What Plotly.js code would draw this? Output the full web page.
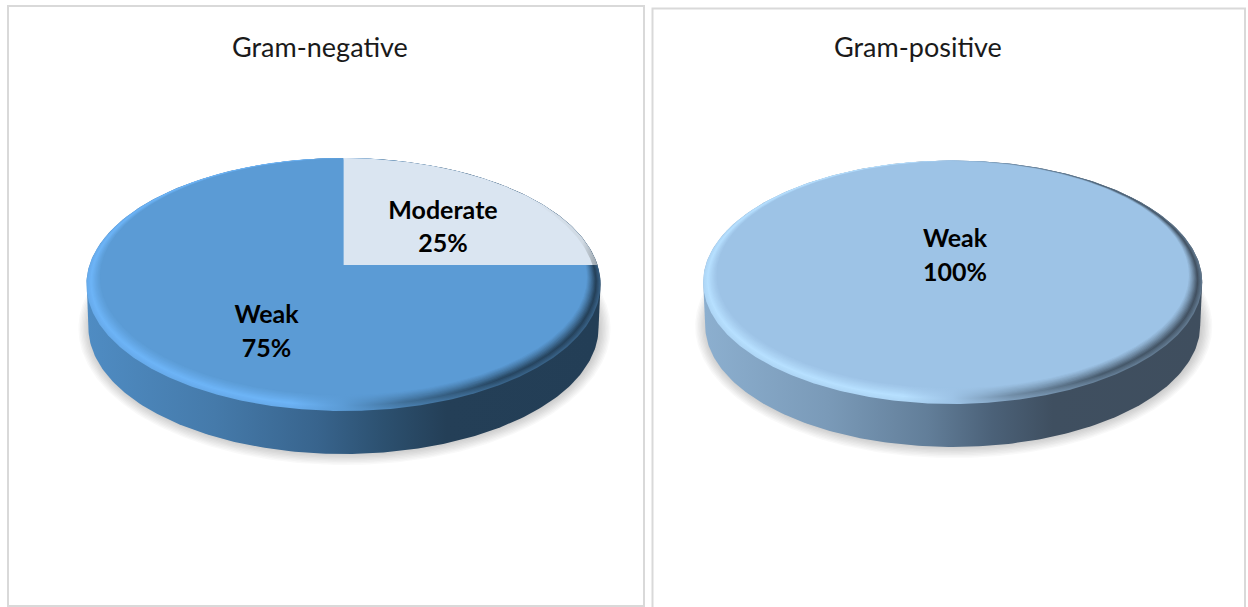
<!DOCTYPE html>
<html>
<head>
<meta charset="utf-8">
<script src="https://cdn.plot.ly/plotly-3.0.1.min.js"></script>
<style>html,body{margin:0;padding:0;background:#fff}#chart{width:1248px;height:607px}#chart text{font-variant-ligatures:none}</style>
</head>
<body>
<div id="chart"></div>
<script>
// Activity categories and their shares for each bacterial group
const negCategories = ['Moderate', 'Weak'];
const negValues = [25, 75];
const posCategories = ['Weak'];
const posValues = [100];
const panelTitles = ['Gram-negative', 'Gram-positive'];

const labelFont = 'Lato, Carlito, Calibri, sans-serif';
const BORDER = '#d9d9d9';

// Disc geometry of each tilted pie, in plot units
const negDisc = {cx: 343.5, cy: 265, R: 254, back: 107, front: 146, wall: 43, inset: 12, bevel: 16, backInset: 1.2};
const posDisc = {cx: 952.7, cy: 265, R: 247, back: 104.5, front: 139, wall: 43, inset: 12, bevel: 16, backInset: 1.2};

// Perspective projection of a point on the disc: angle runs clockwise from 12 o'clock
function project(d, deg) {
  const a = deg * Math.PI / 180;
  const p = (d.front - d.back) / (d.front + d.back);
  const S = d.back * (1 + p);
  const w = 1 + p * Math.cos(a);
  return [d.cx + d.R * Math.sin(a) / w, d.cy - S * Math.cos(a) / w];
}

// The projected circle is an ellipse; these are its centre and radii
function ellipseOf(d) {
  const p = (d.front - d.back) / (d.front + d.back);
  return {x: d.cx, y: d.cy + (d.front - d.back) / 2, rx: d.R / Math.sqrt(1 - p * p), ry: (d.front + d.back) / 2};
}

function sliceXY(d, startDeg, endDeg, full) {
  const xs = [], ys = [];
  if (!full) { xs.push(d.cx); ys.push(d.cy); }
  const n = Math.max(8, Math.round((endDeg - startDeg) * 2));
  for (let i = 0; i <= n; i++) {
    const q = project(d, startDeg + (endDeg - startDeg) * i / n);
    xs.push(q[0]); ys.push(q[1]);
  }
  if (!full) { xs.push(d.cx); ys.push(d.cy); }
  return {x: xs, y: ys};
}

function ellipseXY(e) {
  const xs = [], ys = [];
  for (let i = 0; i <= 360; i += 1) {
    const a = i * Math.PI / 180;
    xs.push(e.x + e.rx * Math.cos(a));
    ys.push(e.y + e.ry * Math.sin(a));
  }
  return {x: xs, y: ys};
}

function wallXY(e, drop, narrow) {
  const xs = [], ys = [];
  for (let i = 0; i <= 180; i++) {
    const a = i * Math.PI / 180;
    xs.push(e.x + (e.rx - narrow) * Math.cos(a));
    ys.push(e.y + drop + e.ry * Math.sin(a));
  }
  for (let i = 180; i <= 360; i++) {
    const a = i * Math.PI / 180;
    xs.push(e.x + e.rx * Math.cos(a));
    ys.push(e.y + e.ry * Math.sin(a));
  }
  return {x: xs, y: ys};
}

function hex(c) { return [1, 3, 5].map(i => parseInt(c.substr(i, 2), 16)); }
function mix(a, b, t) {
  const A = hex(a), B = hex(b);
  return 'rgb(' + A.map((v, i) => Math.round(v + (B[i] - v) * t)).join(',') + ')';
}

function poly(xy, fill) {
  return Object.assign({type: 'scatter', mode: 'lines', x: xy.x, y: xy.y, fill: 'toself',
    line: {width: 0}, hoverinfo: 'skip', showlegend: false}, fill);
}
function solid(c) { return {fillcolor: c}; }
function grad(stops, startX, stopX) {
  return {fillgradient: {type: 'horizontal', start: startX, stop: stopX, colorscale: stops}};
}

// One complete pie: shadow, shaded wall, bevelled rim, then the slices
function drawPie(d, categories, values, pal) {
  const out = [];
  const e = ellipseOf(d);
  const left = e.x - e.rx, right = e.x + e.rx;

  // soft ground shadow
  const steps = 9;
  for (let i = 0; i < steps; i++) {
    const grow = 10 - i * 1.4;
    out.push(poly(ellipseXY({x: e.x + 1, y: e.y + d.wall + 1, rx: e.rx + grow - 1, ry: e.ry + grow}),
      solid('rgba(60,60,60,0.032)')));
  }

  // side wall
  out.push(poly(wallXY(e, d.wall, 2), grad(pal.wall, left, right)));

  // rim bevel: stacked discs blending from the edge tone into the face colour
  const layers = 14;
  for (let i = 0; i <= layers; i++) {
    const t = i / layers;
    const r = {cx: d.cx, cy: d.cy, R: d.R - d.inset * t, back: d.back - d.backInset * t, front: d.front - d.bevel * t};
    const k = (t < 0.3) ? 0.7 + 0.3 * t / 0.3 : 1 - (t - 0.3) / 0.7;
    const stops = pal.rim.map(s => [s[0], mix(pal.face, s[1], Math.pow(k, 1.2))]);
    out.push(poly(sliceXY(r, 0, 360, true), grad(stops, left, right)));
  }

  // slices, clockwise from 12 o'clock, each spanning its share of the total
  const total = values.reduce((a, b) => a + b, 0);
  let start = 0;
  values.forEach((v, i) => {
    const span = 360 * v / total;
    const tone = pal.slices[categories[i]];
    const flat = {cx: d.cx, cy: d.cy, R: d.R - d.inset, back: d.back - d.backInset, front: d.front - d.bevel};
    const full = span >= 360;
    if (tone.edge) {
      // the lighter slice reaches the rim and greys towards the far right edge
      const outer = {cx: d.cx, cy: d.cy, R: d.R, back: d.back, front: d.front};
      out.push(poly(sliceXY(outer, start, start + span, full),
        grad([[0, tone.face], [0.72, tone.face], [0.93, tone.edge], [1, '#8f989f']], d.cx, right)));
      const mid = {cx: d.cx, cy: d.cy, R: d.R - 5, back: d.back - 0.6, front: d.front};
      out.push(poly(sliceXY(mid, start, start + span, full), solid(tone.face)));
    } else {
      out.push(poly(sliceXY(flat, start, start + span, full), solid(tone.face)));
    }
    start += span;
  });
  return out;
}

const negPalette = {
  face: '#5b9bd5',
  wall: [[0, '#4f8cc3'], [0.25, '#457aaa'], [0.45, '#38648d'], [0.58, '#2c506f'], [0.7, '#243f57'], [1, '#233e56']],
  rim: [[0, '#6db4f7'], [0.4, '#6db4f7'], [0.5, '#5b9bd5'], [0.62, '#3f6e97'], [0.8, '#264560'], [1, '#233e56']],
  slices: {Moderate: {face: '#dae5f1', edge: '#cfd9e3'}, Weak: {face: '#5b9bd5'}}
};
const posPalette = {
  face: '#9dc3e6',
  wall: [[0, '#8cafcf'], [0.25, '#7a9ab8'], [0.45, '#627e99'], [0.58, '#4b6178'], [0.7, '#3f4f60'], [1, '#3f4e5e']],
  rim: [[0, '#b7e0ff'], [0.4, '#b7e0ff'], [0.5, '#9dc3e6'], [0.62, '#6f8ba5'], [0.8, '#46596b'], [1, '#3f4e5e']],
  slices: {Weak: {face: '#9dc3e6'}}
};

// Data labels: category name above its percentage
function labelTrace(categories, values, names, pcts) {
  const total = values.reduce((a, b) => a + b, 0);
  const texts = [], xs = [], ys = [];
  categories.forEach((c, i) => {
    texts.push(c, Math.round(100 * values[i] / total) + '%');
    xs.push(names[i][0], pcts[i][0]);
    ys.push(names[i][1], pcts[i][1]);
  });
  return {type: 'scatter', mode: 'text', x: xs, y: ys, text: texts, textposition: 'middle center',
    textfont: {family: labelFont, size: 25, color: '#000000', weight: 700},
    hoverinfo: 'skip', showlegend: false};
}

const traces = [
  ...drawPie(negDisc, negCategories, negValues, negPalette),
  labelTrace(negCategories, negValues, [[443, 213], [266.5, 317]], [[443, 245.5], [266.5, 350.5]]),
  ...drawPie(posDisc, posCategories, posValues, posPalette),
  labelTrace(posCategories, posValues, [[955, 241]], [[955, 274.5]])
];

const noAxis = {visible: false, fixedrange: true, showgrid: false, zeroline: false};
const panelBox = (x0, y0, x1, y1) => ({type: 'rect', xref: 'x', yref: 'y', x0, y0, x1, y1,
  line: {color: BORDER, width: 2}, fillcolor: 'rgba(0,0,0,0)', layer: 'below'});
const panelTitle = (text, x) => ({text, xref: 'x', yref: 'y', x, y: 46.5, showarrow: false,
  xanchor: 'center', yanchor: 'middle', font: {family: labelFont, size: 27, color: '#1a1a1a'}});

const layout = {
  width: 1248, height: 607,
  margin: {l: 0, r: 0, t: 0, b: 0},
  paper_bgcolor: '#ffffff', plot_bgcolor: '#ffffff',
  showlegend: false,
  xaxis: Object.assign({range: [0, 1248]}, noAxis),
  yaxis: Object.assign({range: [607, 0]}, noAxis),
  shapes: [panelBox(8, 6, 644, 606), panelBox(652.5, 8.5, 1245, 620)],
  annotations: [panelTitle(panelTitles[0], 319.5), panelTitle(panelTitles[1], 918)]
};

Plotly.newPlot('chart', traces, layout, {displayModeBar: false, staticPlot: true});
</script>
</body>
</html>
